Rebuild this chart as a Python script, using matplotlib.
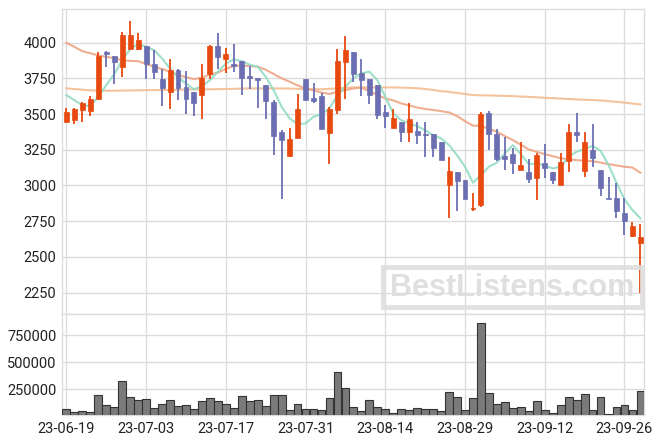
import matplotlib
matplotlib.use("Agg")
import matplotlib.pyplot as plt
from matplotlib.patches import Rectangle
import numpy as np

plt.rcParams['font.family'] = ['Roboto', 'DejaVu Sans']

tick_labels = ["23-06-19", "23-07-03", "23-07-17", "23-07-31", "23-08-14", "23-08-29", "23-09-12", "23-09-26"]
tick_index = [0, 10, 20, 30, 40, 50, 60, 70]

opens = [3446, 3460, 3527, 3523, 3607, 3933, 3903, 3831, 3954, 3952,
         3973, 3847, 3744, 3656, 3807, 3686, 3651, 3635, 3782, 3975,
         3882, 3850, 3868, 3763, 3749, 3702, 3584, 3373, 3208, 3329,
         3744, 3612, 3625, 3369, 3530, 3866, 3931, 3784, 3744, 3702,
         3513, 3404, 3443, 3376, 3381, 3362, 3357, 3301, 3000, 3091,
         3035, 2834, 2865, 3504, 3357, 3205, 3219, 3105, 3091, 3054,
         3156, 3091, 3005, 3173, 3371, 3103, 3248, 3105, 2914, 2912,
         2804, 2648, 2599]
highs = [3539, 3540, 3586, 3628, 3936, 3938, 3905, 4076, 4150, 4064,
         3973, 3947, 3812, 3882, 3812, 3800, 3655, 3847, 3982, 4064,
         3964, 3990, 3870, 3838, 3752, 3702, 3598, 3388, 3399, 3637,
         3746, 3714, 3644, 3551, 3954, 4045, 3931, 3882, 3744, 3702,
         3560, 3534, 3443, 3574, 3446, 3446, 3357, 3301, 3196, 3091,
         3035, 2944, 3511, 3521, 3392, 3341, 3264, 3301, 3182, 3224,
         3287, 3091, 3229, 3427, 3504, 3371, 3427, 3105, 3061, 3016,
         2909, 2741, 2730]
lows = [3441, 3432, 3441, 3488, 3602, 3831, 3707, 3761, 3947, 3947,
        3742, 3742, 3553, 3535, 3597, 3500, 3485, 3465, 3744, 3812,
        3789, 3791, 3633, 3672, 3539, 3462, 3210, 2902, 3196, 3329,
        3598, 3574, 3397, 3147, 3497, 3602, 3726, 3628, 3567, 3462,
        3404, 3404, 3306, 3301, 3287, 3196, 3196, 3175, 2769, 2821,
        2907, 2821, 2846, 3245, 3170, 3107, 3079, 3105, 3014, 2898,
        3049, 3012, 3000, 3091, 3301, 3056, 3126, 2926, 2907, 2769,
        2652, 2641, 2244]
closes = [3511, 3535, 3574, 3604, 3905, 3922, 3866, 4052, 4052, 4017,
          3847, 3796, 3679, 3807, 3684, 3602, 3579, 3749, 3975, 3901,
          3917, 3838, 3754, 3754, 3735, 3593, 3348, 3320, 3325, 3534,
          3598, 3593, 3397, 3534, 3870, 3947, 3782, 3738, 3632, 3495,
          3485, 3471, 3376, 3464, 3355, 3355, 3264, 3175, 3100, 3033,
          2907, 2841, 3500, 3362, 3184, 3184, 3159, 3140, 3047, 3212,
          3124, 3035, 3161, 3371, 3355, 3301, 3194, 2984, 2907, 2823,
          2753, 2716, 2636]
volumes = [68000, 37000, 46000, 37000, 194000, 102000, 83000, 324000, 176000, 148000,
           157000, 74000, 111000, 148000, 93000, 102000, 65000, 139000, 167000, 139000,
           111000, 74000, 185000, 139000, 148000, 93000, 194000, 194000, 56000, 111000,
           65000, 65000, 56000, 167000, 407000, 259000, 83000, 46000, 148000, 83000,
           65000, 34000, 65000, 56000, 74000, 65000, 65000, 46000, 222000, 176000,
           56000, 167000, 861000, 213000, 111000, 130000, 74000, 83000, 46000, 139000,
           56000, 34000, 102000, 176000, 148000, 204000, 56000, 176000, 25000, 83000,
           102000, 56000, 231000]
ma5 = [3632, 3597, 3562, 3555, 3621, 3702, 3779, 3877, 3954, 3989,
       3971, 3947, 3889, 3819, 3754, 3714, 3672, 3695, 3737, 3796,
       3854, 3882, 3870, 3845, 3831, 3761, 3667, 3551, 3469, 3429,
       3434, 3481, 3499, 3539, 3632, 3691, 3749, 3784, 3796, 3737,
       3621, 3504, 3457, 3434, 3415, 3387, 3352, 3329, 3282, 3212,
       3131, 3019, 3072, 3131, 3159, 3224, 3282, 3219, 3149, 3154,
       3138, 3119, 3131, 3201, 3236, 3254, 3278, 3243, 3143, 3019,
       2902, 2828, 2769]
ma20 = [3999, 3970, 3940, 3925, 3910, 3900, 3890, 3877, 3872, 3870,
        3850, 3831, 3815, 3796, 3775, 3758, 3744, 3755, 3775, 3790,
        3815, 3838, 3838, 3836, 3831, 3810, 3780, 3750, 3726, 3700,
        3679, 3665, 3650, 3640, 3656, 3668, 3679, 3685, 3660, 3635,
        3609, 3595, 3574, 3560, 3545, 3535, 3528, 3520, 3511, 3485,
        3450, 3418, 3418, 3395, 3376, 3345, 3317, 3285, 3252, 3235,
        3219, 3205, 3190, 3183, 3177, 3173, 3170, 3160, 3149, 3140,
        3131, 3125, 3089]
ma60 = [3679, 3675, 3670, 3666, 3664, 3663, 3663, 3664, 3665, 3666,
        3667, 3667, 3668, 3669, 3670, 3672, 3672, 3672, 3673, 3674,
        3675, 3676, 3678, 3679, 3679, 3679, 3679, 3679, 3678, 3676,
        3674, 3674, 3673, 3676, 3680, 3684, 3686, 3686, 3686, 3686,
        3686, 3686, 3685, 3683, 3680, 3675, 3668, 3660, 3655, 3647,
        3640, 3633, 3631, 3630, 3628, 3627, 3625, 3622, 3620, 3617,
        3613, 3611, 3608, 3605, 3602, 3600, 3598, 3595, 3590, 3585,
        3580, 3573, 3567]

UP = "#e8490f"
DOWN = "#6b6fb2"
GRID = "#dcdcdc"

W, H = 663, 444
fig = plt.figure(figsize=(W / 100, H / 100), dpi=100)
fig.patch.set_facecolor("white")

L, R = 62 / W, 644 / W
ax = fig.add_axes([L, 1 - 314 / H, R - L, (314 - 9) / H])
axv = fig.add_axes([L, 1 - 415 / H, R - L, (415 - 314) / H], sharex=ax)

n = len(closes)
x = np.arange(n)

for a in (ax, axv):
    a.set_facecolor("white")
    a.grid(True, color=GRID, linewidth=1.0)
    a.set_axisbelow(True)
    for s in a.spines.values():
        s.set_color(GRID)
        s.set_linewidth(1.0)
    a.tick_params(length=0, labelsize=10.5, colors="#222222", pad=4)

# moving averages
ax.plot(x, ma60, color="#f2bd92", lw=1.5, alpha=0.9, zorder=2)
ax.plot(x, ma20, color="#eea585", lw=1.5, alpha=0.9, zorder=2)
ax.plot(x, ma5, color="#92dcc2", lw=1.5, alpha=0.9, zorder=2)

# candles
bw = 0.62
for i in range(n):
    o, h, l, c = opens[i], highs[i], lows[i], closes[i]
    col = UP if c >= o else DOWN
    ax.vlines(x[i], l, h, color=col, lw=1.3, zorder=3)
    bottom = min(o, c)
    height = max(abs(c - o), 6)
    ax.bar(x[i], height, bw, bottom=bottom, color=col, edgecolor=col, lw=0.5, zorder=4)

ax.set_xlim(-0.55, n - 0.55)
ax.set_ylim(2100, 4235)
ax.set_yticks([2250, 2500, 2750, 3000, 3250, 3500, 3750, 4000])
ax.set_xticks(tick_index)
plt.setp(ax.get_xticklabels(), visible=False)

axv.bar(x, volumes, 0.98, color="#7a7a7a", edgecolor="#333333", lw=0.8, zorder=3)
axv.set_ylim(12000, 945000)
axv.set_yticks([250000, 500000, 750000])
axv.set_xticks(tick_index)
axv.set_xticklabels(tick_labels)
axv.tick_params(axis="x", pad=5)

# watermark
box = Rectangle((383 / W, 1 - 307 / H), (642 - 383) / W, 40 / H, transform=fig.transFigure,
                facecolor="none", edgecolor="#dedede", lw=3.5, alpha=0.9, zorder=10)
fig.patches.append(box)
fig.text(512 / W, 1 - 288 / H, "BestListens.com", transform=fig.transFigure,
         ha="center", va="center", fontsize=22, fontweight="bold",
         family=["Liberation Sans", "DejaVu Sans"], color="#dedede", alpha=0.95, zorder=10)

fig.savefig("out.png", dpi=100, facecolor="white")
